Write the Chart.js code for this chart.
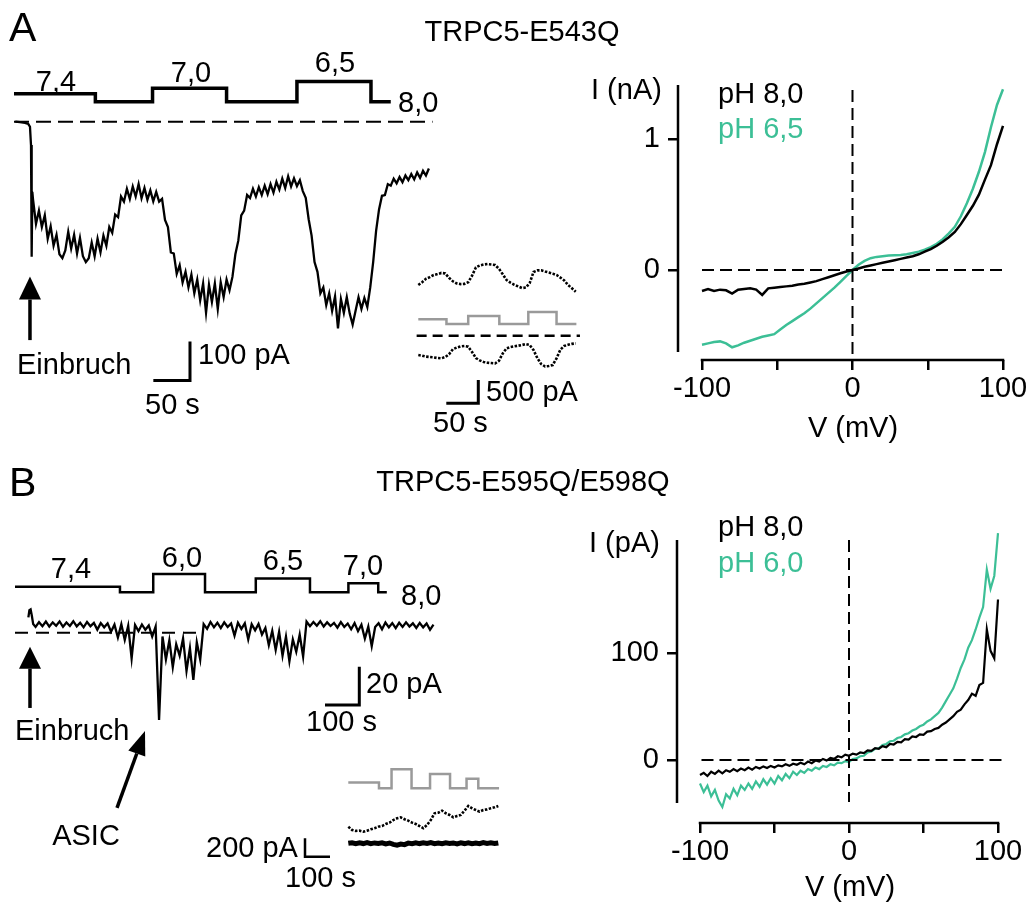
<!DOCTYPE html>
<html>
<head>
<meta charset="utf-8">
<script src="https://cdn.jsdelivr.net/npm/chart.js@4.4.1/dist/chart.umd.min.js"></script>
<style>
  html, body { margin: 0; padding: 0; background: #fff; }
  #page { position: relative; width: 1031px; height: 910px; overflow: hidden;
          font-family: "Liberation Sans", Arial, sans-serif; color: #000; }
  #page canvas { position: absolute; }
  .t { position: absolute; font-size: 29px; line-height: 1; white-space: nowrap; transform: translate(0, -50%); }
  .c { transform: translate(-50%, -50%); }
  .big { font-size: 41px; }
  .g { color: #3cbf96; }
</style>
</head>
<body>
<div id="page">
  <canvas id="traceA" width="1031" height="910" style="left:0;top:0"></canvas>
  <canvas id="insetA" width="1031" height="910" style="left:0;top:0"></canvas>
  <canvas id="traceB" width="1031" height="910" style="left:0;top:0"></canvas>
  <canvas id="insetB" width="1031" height="910" style="left:0;top:0"></canvas>
  <canvas id="ivA" width="452" height="420" style="left:578px;top:40px"></canvas>
  <canvas id="ivB" width="451" height="443" style="left:577px;top:480px"></canvas>

  <!-- panel A -->
  <div class="t big" style="left:9px;top:27px">A</div>
  <div class="t c" style="left:522px;top:31px">TRPC5-E543Q</div>
  <div class="t c" style="left:56px;top:81px">7,4</div>
  <div class="t c" style="left:191px;top:72px">7,0</div>
  <div class="t c" style="left:335px;top:62px">6,5</div>
  <div class="t" style="left:398px;top:102px">8,0</div>
  <div class="t" style="left:17px;top:364px">Einbruch</div>
  <div class="t" style="left:198px;top:354px">100 pA</div>
  <div class="t" style="left:145px;top:404px">50 s</div>
  <div class="t" style="left:486px;top:391px">500 pA</div>
  <div class="t" style="left:433px;top:422px">50 s</div>
  <div class="t" style="left:591px;top:89px">I (nA)</div>
  <div class="t" style="left:718px;top:93px">pH 8,0</div>
  <div class="t g" style="left:718px;top:128px">pH 6,5</div>
  <div class="t c" style="left:853px;top:427px">V (mV)</div>

  <!-- panel B -->
  <div class="t big" style="left:9px;top:482px">B</div>
  <div class="t c" style="left:523px;top:481px">TRPC5-E595Q/E598Q</div>
  <div class="t c" style="left:71px;top:568px">7,4</div>
  <div class="t c" style="left:182px;top:557px">6,0</div>
  <div class="t c" style="left:283px;top:560px">6,5</div>
  <div class="t c" style="left:363px;top:565px">7,0</div>
  <div class="t" style="left:401px;top:595px">8,0</div>
  <div class="t" style="left:15px;top:730px">Einbruch</div>
  <div class="t c" style="left:86px;top:835px">ASIC</div>
  <div class="t" style="left:366px;top:683px">20 pA</div>
  <div class="t" style="left:306px;top:721px">100 s</div>
  <div class="t" style="left:206px;top:847px">200 pA</div>
  <div class="t" style="left:285px;top:877px">100 s</div>
  <div class="t" style="left:589px;top:542px">I (pA)</div>
  <div class="t" style="left:718px;top:526px">pH 8,0</div>
  <div class="t g" style="left:718px;top:562px">pH 6,0</div>
  <div class="t c" style="left:850px;top:886px">V (mV)</div>
</div>

<script>
const GREEN = '#3cbf96';
const GREY = '#9a9a9a';
const FONT = '"Liberation Sans", Arial, sans-serif';

// ---------- A: whole-cell trace (s, pA) ----------
const protA_t = [0, 111, 189, 290, 386, 487, 514];
const protA_pH = [7.4, 8.0, 7.0, 8.0, 6.5, 8.0, 8.0];
const baseA_t = [0, 571];
const traceA_preT = [1.8, 8, 15, 19.5, 21.8, 23.2, 24.1, 25];
const traceA_preI = [0, -1, -3, -6, -13, -60, -346, -180];
const traceA_t0 = 26, traceA_dt = 4;
const traceA_I = [
  -200, -262, -228, -270, -240, -300, -268, -318, -290, -340, -350, -330, -282, -325, -290, -338,
  -298, -345, -360, -350, -310, -345, -300, -335, -292, -318, -270, -285, -238, -245, -192, -205,
  -172, -198, -166, -192, -160, -196, -170, -200, -176, -204, -180, -205, -198, -252, -270, -335,
  -338, -390, -368, -412, -385, -425, -392, -440, -405, -458, -415, -490, -418, -462, -415, -480,
  -412, -450, -405, -432, -398, -340, -305, -240, -228, -188, -196, -172, -192, -168, -188, -164,
  -186, -160, -182, -154, -174, -146, -170, -140, -166, -145, -165, -150, -178, -195, -250, -292,
  -360, -385, -440, -425, -470, -440, -485, -448, -530, -455, -490, -450, -492, -520, -485, -450,
  -480, -452, -475, -425, -360, -280, -225, -190, -188, -160, -164, -146, -158, -142, -155, -138,
  -150, -134, -148, -130, -144, -126, -138, -120
];

// ---------- A inset (s, pA) ----------
const protAi_t = [0, 44, 78, 126.6, 171.9, 216, 247];
const protAi_pH = [7.4, 8.0, 7.0, 8.0, 6.5, 8.0, 8.0];
const baseAi_t = [-2.6, 252.6];
const insetA_t0 = 0, insetA_dt = 6;
const insetA_up = [
  1090, 1150, 1225, 1260, 1305, 1325, 1350, 1340, 1245, 1170, 1125, 1110, 1115, 1150, 1290, 1470,
  1510, 1530, 1541, 1530, 1520, 1440, 1320, 1197, 1140, 1095, 1060, 1025, 1035, 1130, 1370, 1405,
  1405, 1380, 1360, 1335, 1305, 1250, 1190, 1090, 1020, 946
];
const insetA_low = [
  -415, -430, -450, -458, -466, -480, -487, -460, -400, -290, -255, -230, -222, -236, -350, -480,
  -530, -565, -580, -588, -595, -540, -380, -272, -245, -228, -215, -200, -180, -200, -308, -480,
  -610, -660, -650, -630, -487, -300, -220, -195, -175, -165
];

// ---------- A: I-V (mV, nA) ----------
const ivA_V0 = -100, ivA_dV = 4;
const ivA_pH80 = [
  -0.16, -0.145, -0.16, -0.15, -0.155, -0.18, -0.15, -0.145, -0.14, -0.15, -0.19, -0.14, -0.135,
  -0.13, -0.125, -0.12, -0.11, -0.105, -0.095, -0.085, -0.07, -0.055, -0.04, -0.025, -0.012, 0,
  0.012, 0.025, 0.035, 0.045, 0.055, 0.065, 0.075, 0.085, 0.095, 0.105, 0.12, 0.14, 0.16, 0.185,
  0.215, 0.25, 0.29, 0.35, 0.42, 0.49, 0.575, 0.69, 0.8, 0.96, 1.1
];
const ivA_pH65 = [
  -0.57, -0.56, -0.55, -0.545, -0.56, -0.59, -0.575, -0.555, -0.54, -0.525, -0.51, -0.5, -0.49,
  -0.455, -0.42, -0.39, -0.36, -0.33, -0.295, -0.255, -0.215, -0.175, -0.135, -0.09, -0.045, 0,
  0.04, 0.07, 0.09, 0.1, 0.105, 0.11, 0.112, 0.115, 0.12, 0.13, 0.14, 0.155, 0.175, 0.2,
  0.235, 0.28, 0.33, 0.41, 0.51, 0.62, 0.75, 0.9, 1.09, 1.26, 1.38
];
const ivA_xTicks = [-100, -50, 0, 50, 100];
const ivA_yTicks = [0, 1];

// ---------- B: whole-cell trace (s, pA) ----------
const protB_t = [0, 306, 403, 554, 702, 860, 972, 1059, 1084];
const protB_pH = [7.4, 8.0, 6.0, 8.0, 6.5, 8.0, 7.0, 8.0, 8.0];
const baseB_t = [0, 545];
const traceB_preT = [39, 42, 45.5, 49, 53];
const traceB_preI = [8, 11.8, 12.2, 9, 4.5];
const traceB_t0 = 60, traceB_dt = 10;
const traceB_I = [
  3.0, 5.5, 3.4, 5.8, 3.2, 5.4, 3.6, 5.9, 3.1, 5.3, 3.5, 6.0, 3.3, 5.2, 2.8, 5.6,
  3.4, 5.1, 1.6, 5.0, 2.8, 4.9, 0.5, 4.2, -2.5, 4.4, -3.8, 3.6, -13.4, 4.0, 0.8, 4.3,
  1.5, 3.8, -2.0, 3.2, -45.6, -2.0, -14.0, -4.0, -18.0, -6.0, -12.0, -3.0, -20.0, -8.0, -24.7, -5.0,
  -14.0, 4.5, 2.0, 5.6, 2.8, 5.2, 2.4, 5.4, 3.0, 4.8, -1.5, 5.2, 2.0, 4.9, -3.5, 4.4,
  1.2, 4.6, -1.0, 2.5, -6.5, 1.0, -9.0, 0.5, -12.0, -2.0, -15.0, -3.5, -10.0, -1.0, -12.5, 5.8,
  3.4, 5.6, 3.6, 6.0, 3.2, 5.4, 3.5, 5.1, 2.6, 5.5, 3.0, 4.8, 1.8, 5.0, 0.8, 4.2,
  -3.0, 3.2, -7.0, 3.0, 5.0, 1.8, 5.3, 2.8, 5.0, 2.4, 5.2, 3.0, 5.4, 3.2, 4.9, 2.5,
  5.1, 2.8, 4.8, 1.5, 4.2
];

// ---------- B inset (s, pA) ----------
const protBi_t = [0, 122.7, 173, 253, 327, 407, 473, 520, 603];
const protBi_pH = [7.4, 8.0, 6.0, 8.0, 6.5, 8.0, 7.0, 8.0, 8.0];
const insetB_t0 = 0, insetB_dt = 15;
const insetB_up = [
  181, 145, 135, 138, 127, 138, 153, 164, 181, 188, 210, 225, 254, 273, 283, 262,
  247, 225, 210, 188, 164, 200, 254, 327, 334, 356, 327, 309, 283, 298, 309, 356,
  407, 382, 363, 345, 363, 370, 382, 392, 407
];
const insetB_low = [
  0, 6, -4, 5, -3, 7, -5, 4, -2, 6, -6, 3, -12, -20, -8, -15,
  2, -4, 6, -3, 5, -2, 7, -4, 3, -5, 6, -2, 4, -6, 5, -3,
  6, -4, 3, -5, 7, -2, 5, -3, 4
];

// ---------- B: I-V (mV, pA) ----------
const ivB_V0 = -100, ivB_dV = 2.5;
const ivB_pH80 = [
  -14, -12, -15, -11, -13, -10, -12.5, -9.5, -11, -8.5, -10.5, -8, -9.5, -7, -9, -6.5,
  -8, -6, -7.5, -5.5, -7, -5, -6, -4, -5.5, -3.5, -4.5, -2.5, -4, -1.5, -3, -0.5,
  -1.5, 1, -0.5, 2, 1, 3.5, 2.5, 5, 4,
  6, 5, 7, 6.5, 9, 8.5, 11, 10.5, 13, 12, 15, 14.5, 17, 16.5, 19.5, 19,
  22, 21.5, 24, 23.5, 26.5, 27, 29, 30, 33, 35, 38, 41, 45, 47, 52, 56,
  62, 60, 70, 72, 122, 102, 95, 150
];
const ivB_pH60 = [
  -22, -30, -24, -34, -28, -38, -44, -32, -36, -27, -33, -24, -28, -22, -27, -20,
  -25, -18, -23, -17, -22, -15, -19, -13, -17, -11, -14, -10, -12, -8.5, -10, -7,
  -8.5, -5.5, -6.5, -4, -5, -2.5, -3, -1, -2,
  1, 1.5, 3.5, 4, 7, 8, 10.5, 11, 14, 15, 17.5, 18, 20.5, 21.5, 24, 25,
  27.5, 29, 31.5, 33, 36, 38, 41, 44, 49, 55, 61, 67, 76, 86, 94, 105,
  112, 122, 133, 143, 178, 160, 172, 212
];
const ivB_xTicks = [-100, -50, 0, 50, 100];
const ivB_yTicks = [0, 100];

// ---------- helpers ----------
const W = 1031, H = 910;
// value range for an axis whose value v0 sits at px0, growing to the right / downward
function span(px0, v0, pxPerUnit, size) {
  const min = v0 - px0 / pxPerUnit;
  return { min, max: min + size / pxPerUnit };
}
// value range for an axis where larger values are higher on screen
function spanUp(py0, v0, pxPerUnit, size) {
  const max = v0 + py0 / pxPerUnit;
  return { min: max - size / pxPerUnit, max };
}
const pairs = (xs, ys) => xs.map((x, i) => ({ x, y: ys[i] }));
const series = (x0, dx, ys) => ys.map((y, i) => ({ x: x0 + i * dx, y }));
const flat = (xs, v) => xs.map(x => ({ x, y: v }));

function drawArrow(ctx, x1, y1, x2, y2, len, half, w) {
  const a = Math.atan2(y2 - y1, x2 - x1);
  const bx = x2 - len * Math.cos(a), by = y2 - len * Math.sin(a);
  ctx.lineWidth = w;
  ctx.beginPath(); ctx.moveTo(x1, y1); ctx.lineTo(bx, by); ctx.stroke();
  ctx.beginPath();
  ctx.moveTo(x2, y2);
  ctx.lineTo(bx - half * Math.sin(a), by + half * Math.cos(a));
  ctx.lineTo(bx + half * Math.sin(a), by - half * Math.cos(a));
  ctx.closePath(); ctx.fill();
}

// scale bars and arrows, placed in data units of the chart
function marks(bars, arrows) {
  return {
    id: 'marks',
    afterDatasetsDraw(chart) {
      const { ctx } = chart;
      const x = chart.scales.x, y = chart.scales.y;
      ctx.save();
      ctx.strokeStyle = '#000'; ctx.fillStyle = '#000';
      ctx.lineJoin = 'miter'; ctx.lineCap = 'butt';
      bars.forEach(b => {
        const cx = x.getPixelForValue(b.t), cy = y.getPixelForValue(b.i);
        ctx.lineWidth = b.w;
        ctx.beginPath();
        ctx.moveTo(x.getPixelForValue(b.t + b.dt), cy);
        ctx.lineTo(cx, cy);
        ctx.lineTo(cx, y.getPixelForValue(b.i + b.di));
        ctx.stroke();
      });
      arrows.forEach(a => {
        drawArrow(ctx, x.getPixelForValue(a.t1), y.getPixelForValue(a.i1),
          x.getPixelForValue(a.t2), y.getPixelForValue(a.i2), a.len, a.half, a.w);
      });
      ctx.restore();
    }
  };
}

function traceChart(id, datasets, xr, yr, pr, plugin) {
  return new Chart(document.getElementById(id), {
    type: 'line',
    data: { datasets },
    options: {
      responsive: false, animation: false, devicePixelRatio: 1, events: [],
      layout: { padding: 0 },
      elements: { point: { radius: 0 }, line: { tension: 0, borderCapStyle: 'butt' } },
      scales: {
        x: { type: 'linear', display: false, min: xr.min, max: xr.max },
        y: { type: 'linear', display: false, min: yr.min, max: yr.max },
        ph: { type: 'linear', display: false, min: pr.min, max: pr.max, reverse: true }
      },
      plugins: { legend: { display: false }, tooltip: { enabled: false } }
    },
    plugins: [plugin]
  });
}

function axesLines(xFrom, xTo, yFrom, yTo) {
  return {
    id: 'axesLines',
    afterDraw(chart) {
      const { ctx, chartArea: a } = chart;
      const x = chart.scales.x, y = chart.scales.y;
      ctx.save();
      ctx.strokeStyle = '#000'; ctx.lineWidth = 2.5; ctx.lineCap = 'butt';
      ctx.beginPath();
      ctx.moveTo(x.getPixelForValue(xFrom) - 1.25, a.bottom);
      ctx.lineTo(x.getPixelForValue(xTo) + 1.25, a.bottom);
      ctx.moveTo(a.left, y.getPixelForValue(yFrom));
      ctx.lineTo(a.left, y.getPixelForValue(yTo));
      ctx.stroke();
      ctx.restore();
    }
  };
}

// place: canvas offset on the page and where one known value of each axis must land
function ivChart(id, place, datasets, xTicks, yTicks, axes) {
  const tickFont = { family: FONT, size: 29 };
  const grid = { drawOnChartArea: false, drawTicks: true, tickLength: 10, color: '#000', lineWidth: 2.5 };
  const chart = new Chart(document.getElementById(id), {
    type: 'line',
    data: { datasets },
    options: {
      responsive: false, animation: false, devicePixelRatio: 1, events: [],
      layout: { padding: { left: 0, top: 40, right: 20, bottom: 0 } },
      elements: { point: { radius: 0 }, line: { tension: 0 } },
      scales: {
        x: {
          type: 'linear', min: -120, max: 110,
          afterBuildTicks: s => { s.ticks = xTicks.map(v => ({ value: v })); },
          afterFit: s => { s.height = 100; },
          border: { display: false }, grid,
          ticks: { color: '#000', font: tickFont, padding: 2, maxRotation: 0, autoSkip: false,
                   callback: v => (Math.abs(v) === 50 ? '' : String(v)) }
        },
        y: {
          type: 'linear', min: place.yMin, max: place.yMax,
          afterBuildTicks: s => { s.ticks = yTicks.map(v => ({ value: v })); },
          afterFit: s => { s.width = 100; },
          border: { display: false }, grid,
          ticks: { color: '#000', font: tickFont, padding: 8, autoSkip: false, callback: v => String(v) }
        }
      },
      plugins: { legend: { display: false }, tooltip: { enabled: false } }
    },
    plugins: [axesLines(axes[0], axes[1], axes[2], axes[3])]
  });
  // fit the ranges to the plot area that Chart.js actually laid out
  const a = chart.chartArea;
  const xr = span(place.px - (place.left + a.left), place.vx, place.kx, a.right - a.left);
  const yr = spanUp(place.py - (place.top + a.top), place.vy, place.ky, a.bottom - a.top);
  Object.assign(chart.options.scales.x, xr);
  Object.assign(chart.options.scales.y, yr);
  chart.update();
  return chart;
}

// ---------- panel A trace ----------
traceChart('traceA', [
  { data: flat(baseA_t, 0), borderColor: '#000', borderWidth: 2, borderDash: [15, 7] },
  { data: pairs(protA_t, protA_pH), yAxisID: 'ph', stepped: 'before', borderColor: '#000', borderWidth: 3.5 },
  { data: pairs(traceA_preT, traceA_preI).concat(series(traceA_t0, traceA_dt, traceA_I)),
    borderColor: '#000', borderWidth: 2.3 }
], span(14, 0, 0.733, W), spanUp(121.7, 0, 0.39, H), span(101.7, 8.0, 13.4, H),
  marks([{ t: 240.1, i: -663.6, dt: -50, di: 100, w: 3 }],
        [{ t1: 21.8, i1: -560, t2: 21.8, i2: -397, len: 23, half: 11, w: 3.5 }]));

// ---------- panel A inset ----------
traceChart('insetA', [
  { data: flat(baseAi_t, 0), borderColor: '#000', borderWidth: 2.5, borderDash: [10, 6] },
  { data: pairs(protAi_t, protAi_pH), yAxisID: 'ph', stepped: 'before', borderColor: GREY, borderWidth: 2.5 },
  { data: series(insetA_t0, insetA_dt, insetA_up), borderColor: '#000', borderWidth: 2.6, borderDash: [2.5, 1.5] },
  { data: series(insetA_t0, insetA_dt, insetA_low), borderColor: '#000', borderWidth: 2.6, borderDash: [2.5, 1.5] }
], span(418.3, 0, 0.64, W), spanUp(335.7, 0, 0.0465, H), span(324, 8.0, 8, H),
  marks([{ t: 93.75, i: -1453, dt: -50, di: 500, w: 3 }], []));

// ---------- panel B trace ----------
traceChart('traceB', [
  { data: flat(baseB_t, 0), borderColor: '#000', borderWidth: 2, borderDash: [13, 8] },
  { data: pairs(protB_t, protB_pH), yAxisID: 'ph', stepped: 'before', borderColor: '#000', borderWidth: 2.5 },
  { data: pairs(traceB_preT, traceB_preI).concat(series(traceB_t0, traceB_dt, traceB_I)),
    borderColor: '#000', borderWidth: 2.3 }
], span(15, 0, 0.343, W), spanUp(632.7, 0, 1.915, H), span(592.3, 8.0, 9.15, H),
  marks([{ t: 1003.8, i: -37.75, dt: -100, di: 20, w: 3 }],
        [{ t1: 43.7, i1: -39.3, t2: 43.7, i2: -7.3, len: 22, half: 11, w: 3.5 },
         { t1: 297.4, i1: -91.5, t2: 379, i2: -51.3, len: 24, half: 9, w: 3.5 }]));

// ---------- panel B inset ----------
traceChart('insetB', [
  { data: pairs(protBi_t, protBi_pH), yAxisID: 'ph', stepped: 'before', borderColor: GREY, borderWidth: 2.5 },
  { data: series(insetB_t0, insetB_dt, insetB_up), borderColor: '#000', borderWidth: 2.6, borderDash: [2.5, 1.5] },
  { data: series(insetB_t0, insetB_dt, insetB_low), borderColor: '#000', borderWidth: 5 }
], span(348.3, 0, 0.25, W), spanUp(843.3, 0, 0.0917, H), span(788.3, 8.0, 9.5, H),
  marks([{ t: -173.2, i: -146, dt: 100, di: 200, w: 2.5 }], []));

// ---------- I-V curves ----------
ivChart('ivA', { left: 578, top: 40, px: 702, vx: -100, kx: 1.505, py: 270, vy: 0, ky: 131, yMin: -0.7, yMax: 1.5 }, [
  { data: flat([-100, 102], 0), borderColor: '#000', borderWidth: 2, borderDash: [12, 6] },
  { data: [{ x: 0, y: 1.374 }, { x: 0, y: -0.687 }], borderColor: '#000', borderWidth: 2, borderDash: [12, 6] },
  { data: series(ivA_V0, ivA_dV, ivA_pH80), borderColor: '#000', borderWidth: 2.5 },
  { data: series(ivA_V0, ivA_dV, ivA_pH65), borderColor: GREEN, borderWidth: 2.5 }
], ivA_xTicks, ivA_yTicks, [-100, 100, 1.412, -0.626]);

ivChart('ivB', { left: 577, top: 480, px: 700, vx: -100, kx: 1.49, py: 760, vy: 0, ky: 1.07, yMin: -60, yMax: 230 }, [
  { data: flat([-99, 105], 0), borderColor: '#000', borderWidth: 2, borderDash: [12, 6] },
  { data: [{ x: 0, y: 205.6 }, { x: 0, y: -39.3 }], borderColor: '#000', borderWidth: 2, borderDash: [12, 6] },
  { data: series(ivB_V0, ivB_dV, ivB_pH80), borderColor: '#000', borderWidth: 2.2 },
  { data: series(ivB_V0, ivB_dV, ivB_pH60), borderColor: GREEN, borderWidth: 2.2 }
], ivB_xTicks, ivB_yTicks, [-100, 100, 205.6, -40.2]);
</script>
</body>
</html>
